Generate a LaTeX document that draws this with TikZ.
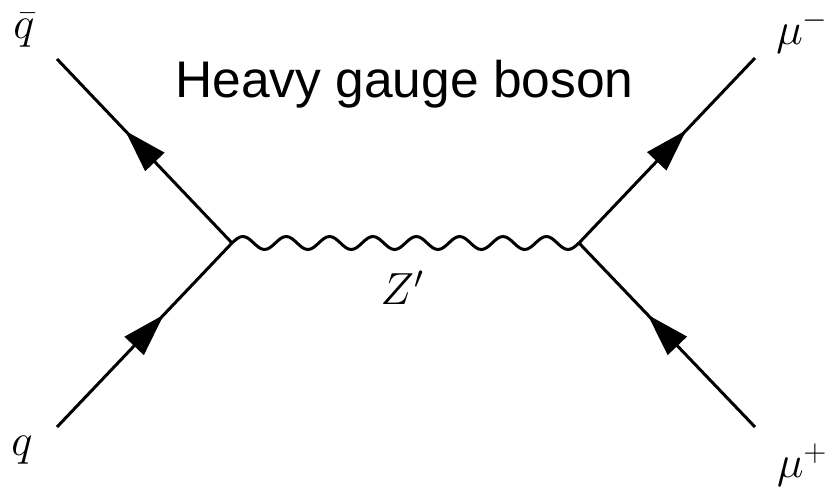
\RequirePackage{fix-cm}
\documentclass[tikz,border=0pt]{standalone}
\usepackage{amsmath}
\usepackage{fontspec}
\setsansfont{Liberation Sans}
\usetikzlibrary{arrows.meta,decorations.markings}

\begin{document}
\begin{tikzpicture}[x=1pt,y=-1pt,
    fermion/.style={black, line width=3pt, postaction={decorate},
      decoration={markings, mark=at position .61 with {\arrow{Triangle[length=43pt,width=26pt]}}}},
    photon/.style={black, line width=3pt},
    lbl/.style={font=\fontsize{45}{50}\selectfont}]
  \useasboundingbox (0,0) rectangle (829,487);
  \coordinate (vl) at (232,243);
  \coordinate (vr) at (579,243);
  \coordinate (qbar) at (57,59);
  \coordinate (q) at (57,427);
  \coordinate (mum) at (755,58);
  \coordinate (mup) at (755,427);
  \draw [fermion]    (vl) -- (qbar);
  \draw [fermion]    (q) -- (vl);
  \draw [fermion]    (vr) -- (mum);
  \draw [fermion]    (mup) -- (vr);
  \draw [photon]     (vl) \foreach \i in {1,...,8} {
      sin ++(10.84,-6.5) cos ++(10.84,6.5) sin ++(10.84,6.5) cos ++(10.84,-6.5)};
  \node [lbl] (lqbar) at (24,30) {$\bar q$};
  \node [lbl] (lq) at (22,450) {$q$};
  \node [lbl] (lmum) at (802,32) {$\mu^-$};
  \node [lbl] (lmup) at (802,465) {$\mu^+$};
  \node [lbl] (lz) at (402,288) {$Z'$};
  \node [font=\sffamily\fontsize{51.5}{60}\selectfont, anchor=base] (title) at (404.5,97) {Heavy gauge boson};
\end{tikzpicture}
\end{document}
